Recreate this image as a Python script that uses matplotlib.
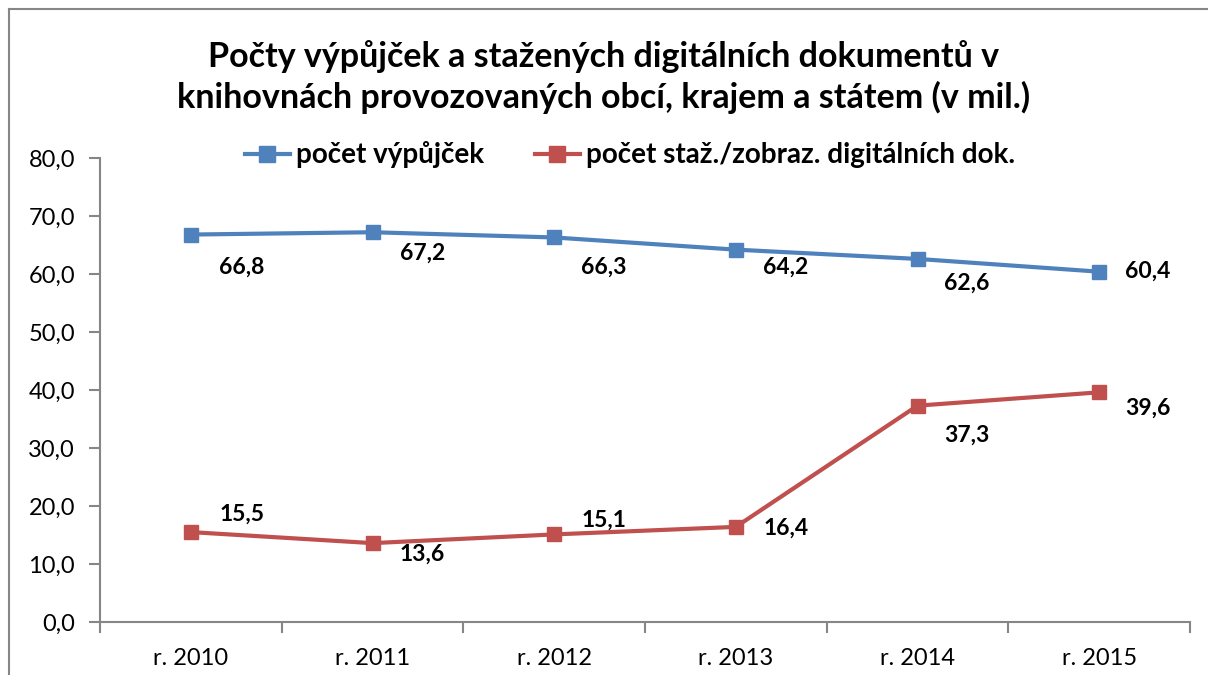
import matplotlib
matplotlib.use("Agg")
import matplotlib.pyplot as plt
from matplotlib.lines import Line2D

plt.rcParams['font.family'] = ['Lato', 'DejaVu Sans']

categories = ["r. 2010", "r. 2011", "r. 2012", "r. 2013", "r. 2014", "r. 2015"]
vypujcky = [66.8, 67.2, 66.3, 64.2, 62.6, 60.4]
digital = [15.5, 13.6, 15.1, 16.4, 37.3, 39.6]
y_ticks = [0, 10, 20, 30, 40, 50, 60, 70, 80]

title = "Počty výpůjček a stažených digitálních dokumentů v\nknihovnách provozovaných obcí, krajem a státem (v mil.)"
series_names = ["počet výpůjček", "počet staž./zobraz. digitálních dok."]

# label offsets in pixels (dx, dy; dy positive = up)
blue_off = [(51, -33), (50, -21), (50, -30), (50, -18), (49, -24), (49, 0)]
red_off = [(51, 18), (50, -11), (50, 14), (50, -1), (49, -30), (49, -16)]

W, H = 1208, 675
fig = plt.figure(figsize=(W / 100, H / 100), dpi=100)
ax = fig.add_axes([100 / W, 1 - 622 / H, 1090 / W, 464 / H])

blue = "#4F81BD"
red = "#C0504D"
grey = "#868686"

x = list(range(len(categories)))
l1, = ax.plot(x, vypujcky, color=blue, lw=3, marker="s", ms=10.5, label=series_names[0])
l2, = ax.plot(x, digital, color=red, lw=3, marker="s", ms=10.5, label=series_names[1])

def fmt(v):
    return f"{v:.1f}".replace(".", ",")

for xi, v, (dx, dy) in zip(x, vypujcky, blue_off):
    ax.annotate(fmt(v), (xi, v), xytext=(dx, dy), textcoords="offset pixels",
                ha="center", va="center", fontsize=16.5, fontweight="bold")
for xi, v, (dx, dy) in zip(x, digital, red_off):
    ax.annotate(fmt(v), (xi, v), xytext=(dx, dy), textcoords="offset pixels",
                ha="center", va="center", fontsize=16.5, fontweight="bold")

ax.set_xlim(-0.5, len(categories) - 0.5)
ax.set_ylim(0, 80)
ax.set_yticks(y_ticks)
ax.set_yticklabels([fmt(v) for v in y_ticks], fontsize=17)
ax.set_xticks(x)
ax.set_xticklabels(categories, fontsize=17)
ax.tick_params(axis="x", length=0, pad=19)
ax.set_xticks([i - 0.5 for i in range(len(categories) + 1)], minor=True)
ax.tick_params(axis="x", which="minor", length=8, color=grey, width=1.5, direction="out")
ax.tick_params(axis="y", length=8, color=grey, width=1.5, direction="out", pad=10)
for s in ["top", "right"]:
    ax.spines[s].set_visible(False)
for s in ["left", "bottom"]:
    ax.spines[s].set_color(grey)
    ax.spines[s].set_linewidth(1.5)

fig.text(0.5, 1 - 77 / H, title, ha="center", va="center", fontsize=24.5,
         fontweight="bold", linespacing=1.3)

fig.legend(handles=[l1, l2], loc="center", bbox_to_anchor=(630 / W, 1 - 155 / H),
           ncol=2, frameon=False, prop={"weight": "bold", "size": 20},
           handlelength=1.62, handletextpad=0.22, columnspacing=1.83, markerscale=1.1)

# outer chart border
fig.add_artist(Line2D([9 / W, 1.0], [1 - 9 / H] * 2, color=grey, lw=1.5, transform=fig.transFigure))
fig.add_artist(Line2D([9 / W] * 2, [0, 1 - 9 / H], color=grey, lw=1.5, transform=fig.transFigure))

fig.savefig("out.png", dpi=100)
